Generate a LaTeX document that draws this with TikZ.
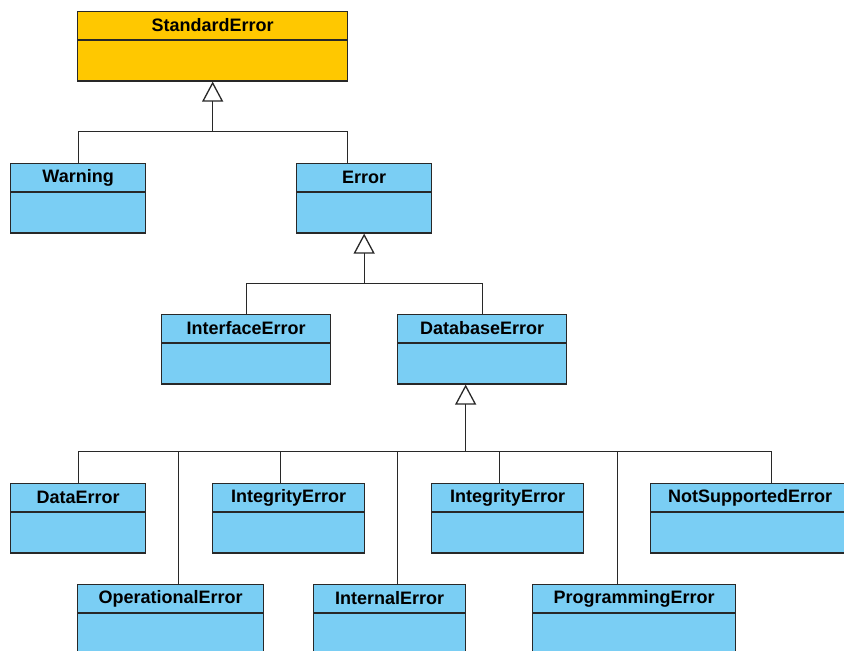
\documentclass[tikz,border=0pt]{standalone}
\usepackage{fontspec}
\setmainfont{Liberation Sans}
\usetikzlibrary{arrows.meta}
\definecolor{stdyellow}{RGB}{255,200,0}
\definecolor{clsblue}{RGB}{122,206,244}
\definecolor{edge}{RGB}{40,40,40}
\tikzset{
  clshead/.style={draw=edge, line width=1.3pt, minimum height=27.5pt, inner sep=0pt, anchor=north west,
    font=\fontsize{18}{20}\selectfont\bfseries},
  clsbody/.style={draw=edge, line width=1.3pt, minimum height=40.5pt, inner sep=0pt, anchor=north},
  assoc/.style={draw=edge, line width=1.3pt},
  inherit/.style={assoc, -{Triangle[open, length=20pt, width=21pt]}}
}
\begin{document}
\begin{tikzpicture}[x=1pt, y=1pt]
    \useasboundingbox (0,0) rectangle (844,-651);
    % StandardError
    \node[clshead, fill=stdyellow, minimum width=270pt] (std) at (77,-11) {StandardError};
    \node[clsbody, fill=stdyellow, minimum width=270pt] (stdB) at (std.south) {};
    % Warning / Error
    \node[clshead, fill=clsblue, minimum width=135pt] (warn) at (10,-163) {Warning};
    \node[clsbody, fill=clsblue, minimum width=135pt] (warnB) at (warn.south) {};
    \node[clshead, fill=clsblue, minimum width=135pt] (err) at (296,-163) {Error};
    \node[clsbody, fill=clsblue, minimum width=135pt] (errB) at (err.south) {};
    % InterfaceError / DatabaseError
    \node[clshead, fill=clsblue, minimum width=169pt] (iface) at (161,-314) {InterfaceError};
    \node[clsbody, fill=clsblue, minimum width=169pt] (ifaceB) at (iface.south) {};
    \node[clshead, fill=clsblue, minimum width=169pt] (db) at (397,-314) {DatabaseError};
    \node[clsbody, fill=clsblue, minimum width=169pt] (dbB) at (db.south) {};
    % obere Reihe
    \node[clshead, fill=clsblue, minimum width=135pt] (data) at (10,-483) {DataError};
    \node[clsbody, fill=clsblue, minimum width=135pt] (dataB) at (data.south) {};
    \node[clshead, fill=clsblue, minimum width=152pt] (integA) at (212,-483) {IntegrityError};
    \node[clsbody, fill=clsblue, minimum width=152pt] (integAB) at (integA.south) {};
    \node[clshead, fill=clsblue, minimum width=152pt] (integB) at (431,-483) {IntegrityError};
    \node[clsbody, fill=clsblue, minimum width=152pt] (integBB) at (integB.south) {};
    \node[clshead, fill=clsblue, minimum width=199pt] (nosup) at (650,-483) {NotSupportedError};
    \node[clsbody, fill=clsblue, minimum width=199pt] (nosupB) at (nosup.south) {};
    % untere Reihe
    \node[clshead, fill=clsblue, minimum width=186pt] (oper) at (77,-584) {OperationalError};
    \node[clsbody, fill=clsblue, minimum width=186pt] (operB) at (oper.south) {};
    \node[clshead, fill=clsblue, minimum width=152pt] (intern) at (313,-584) {InternalError};
    \node[clsbody, fill=clsblue, minimum width=152pt] (internB) at (intern.south) {};
    \node[clshead, fill=clsblue, minimum width=203pt] (prog) at (532,-584) {ProgrammingError};
    \node[clsbody, fill=clsblue, minimum width=203pt] (progB) at (prog.south) {};
    % Vererbung
    \coordinate (j1) at ([yshift=-50pt]stdB.south);
    \draw[inherit] (j1) -- (stdB.south);
    \draw[assoc] (warn.north) |- (j1) -| ([xshift=-16.5pt]err.north);
    \coordinate (j2) at ([yshift=-50pt]errB.south);
    \draw[inherit] (j2) -- (errB.south);
    \draw[assoc] (iface.north) |- (j2) -| (db.north);
    \coordinate (j3) at ([xshift=-16.5pt, yshift=-67pt]dbB.south);
    \draw[inherit] (j3) -- (j3 |- dbB.south);
    \draw[assoc] (data.north) |- (j3) -| ([xshift=21pt]nosup.north);
    \draw[assoc] ([xshift=-8pt]integA.north) -- ([xshift=-8pt]integA.north |- j3);
    \draw[assoc] ([xshift=-8pt]integB.north) -- ([xshift=-8pt]integB.north |- j3);
    \draw[assoc] ([xshift=8pt]oper.north) -- ([xshift=8pt]oper.north |- j3);
    \draw[assoc] ([xshift=8pt]intern.north) -- ([xshift=8pt]intern.north |- j3);
    \draw[assoc] ([xshift=-16.5pt]prog.north) -- ([xshift=-16.5pt]prog.north |- j3);
\end{tikzpicture}
\end{document}
